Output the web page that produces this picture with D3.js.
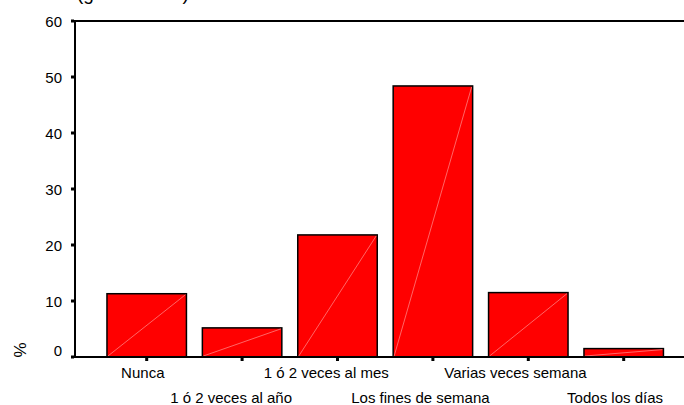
<!DOCTYPE html>
<html>
<head>
<meta charset="utf-8">
<script src="https://cdn.jsdelivr.net/npm/d3@7"></script>
<style>
  body { margin: 0; background: #fff; }
  text { font-family: "Liberation Sans", Arial, sans-serif; fill: #000; }
</style>
</head>
<body>
<div id="chart"></div>
<script>
const width = 684
const height = 405
const margin = {top: 21, bottom: 48, left: 75, right: 0}

// Data
const categories = ["Nunca", "1 ó 2 veces al año", "1 ó 2 veces al mes", "Los fines de semana", "Varias veces semana", "Todos los días"]
const percents = [11.3, 5.2, 21.8, 48.4, 11.5, 1.5]
const yTicks = [0, 10, 20, 30, 40, 50, 60]
const title = "(global en %)"

const svg = d3.select("div#chart").append("svg").attr("width", width).attr("height", height)

// Scales
const x = d3.scaleBand().domain(categories).range([99, 671.4]).paddingInner(0.167).paddingOuter(0.0835)
const y = d3.scaleLinear().domain([0, 60]).range([height - margin.bottom, margin.top])

// Title (cut off at the top like the original)
svg.append("text").attr("x", 77).attr("y", 0).style("font-size", "19px").text(title)

// Bars
const bars = svg.append("g").attr("id", "bars")
bars.selectAll("rect")
    .data(percents)
    .enter().append("rect")
    .attr("x", (d, i) => x(categories[i]))
    .attr("y", d => y(d))
    .attr("width", x.bandwidth())
    .attr("height", d => y(0) - y(d))
    .attr("fill", "#ff0000")
    .attr("stroke", "#000")
    .attr("stroke-width", 1.5)

// Faint diagonal inside each bar
bars.selectAll("line")
    .data(percents)
    .enter().append("line")
    .attr("x1", (d, i) => x(categories[i]) + 1)
    .attr("y1", y(0) - 1)
    .attr("x2", (d, i) => x(categories[i]) + x.bandwidth() - 1)
    .attr("y2", d => y(d) + 1)
    .attr("stroke", "#ff9090")
    .attr("stroke-width", 0.7)

// Frame / axis lines
const axisGroup = svg.append("g").attr("id", "axisGroup")
axisGroup.append("line").attr("x1", margin.left).attr("x2", width).attr("y1", y(60)).attr("y2", y(60))
    .attr("stroke", "#000").attr("stroke-width", 2)
axisGroup.append("line").attr("x1", margin.left).attr("x2", width).attr("y1", y(0)).attr("y2", y(0))
    .attr("stroke", "#000").attr("stroke-width", 2)
axisGroup.append("line").attr("x1", margin.left).attr("x2", margin.left).attr("y1", y(60) - 1).attr("y2", y(0) + 1)
    .attr("stroke", "#000").attr("stroke-width", 2)

// Y ticks and labels
axisGroup.selectAll("rect.ytick")
    .data(yTicks)
    .enter().append("rect")
    .attr("class", "ytick")
    .attr("x", margin.left - 4).attr("y", d => y(d) - 1.5)
    .attr("width", 3).attr("height", 3).attr("fill", "#000")
axisGroup.selectAll("text.ylab")
    .data(yTicks)
    .enter().append("text")
    .attr("class", "ylab")
    .attr("x", 62)
    .attr("y", d => y(d) + (d === 0 ? -1 : 5.5))
    .attr("text-anchor", "end")
    .style("font-size", "15px")
    .text(d => d)

// X ticks
axisGroup.selectAll("rect.xtick")
    .data(categories)
    .enter().append("rect")
    .attr("class", "xtick")
    .attr("x", d => x(d) + x.bandwidth() / 2 - 1.5).attr("y", y(0) + 1)
    .attr("width", 3).attr("height", 3).attr("fill", "#000")

// X labels, staggered in two rows (set slightly left of the tick, as in the original)
axisGroup.selectAll("text.xlab")
    .data(categories)
    .enter().append("text")
    .attr("class", "xlab")
    .attr("y", (d, i) => i % 2 === 0 ? 378 : 403)
    .style("font-size", "15px")
    .text(d => d)
    .attr("x", function(d) { return x(d) + x.bandwidth() / 2 - 0.59 * this.getComputedTextLength() })

// Y axis title
svg.append("text")
    .attr("transform", "translate(26, 350) rotate(-90)")
    .attr("text-anchor", "middle")
    .style("font-size", "17px")
    .text("%")
</script>
</body>
</html>
